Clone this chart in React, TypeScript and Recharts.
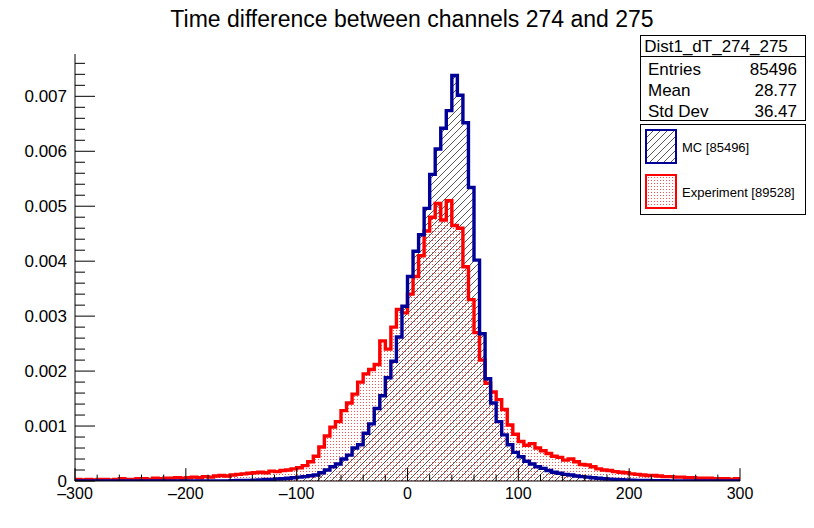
import React from 'react';
import { ComposedChart, Area, Line, XAxis, YAxis } from 'recharts';

const FONT = '"Liberation Sans", Arial, Helvetica, sans-serif';

const TITLE = 'Time difference between channels 274 and 275';
const STATS_NAME = 'Dist1_dT_274_275';
const STATS_ROWS: [string, string][] = [
  ['Entries', '85496'],
  ['Mean', '28.77'],
  ['Std Dev', '36.47'],
];
const SERIES_NAMES = ['MC [85496]', 'Experiment [89528]'];

const BIN_START = -300;
const BIN_WIDTH = 5;
const X_MIN = -300;
const X_MAX = 300;
const Y_MAX = 0.00777;

const xMajorTicks = [-300, -200, -100, 0, 100, 200, 300];
const xTickLabels = ['\u2013300', '\u2013200', '\u2013100', '0', '100', '200', '300'];
const yMajorTicks = [0, 0.001, 0.002, 0.003, 0.004, 0.005, 0.006, 0.007];
const yTickLabels = ['0', '0.001', '0.002', '0.003', '0.004', '0.005', '0.006', '0.007'];

// MC (bin lower edges from -300 in steps of 5)
const mcValues = [
  0, 0, 0, 0, 0, 0, 0, 0, 0, 0,
  0, 0, 0, 0, 0, 0, 0, 0, 0, 0,
  0, 0, 0, 0, 0, 0, 0,
  0.000003, 0.000005, 0.000008, 0.00001, 0.000012, 0.000016, 0.00002, 0.000026, 0.00003, 0.000036,
  0.00004, 0.00005, 0.00006, 0.00007, 0.00008, 0.000095, 0.00011, 0.00015, 0.0002, 0.00026,
  0.00031, 0.0004, 0.00047, 0.0006, 0.00066, 0.00087, 0.00104, 0.00132, 0.00155, 0.00188,
  0.00218, 0.00262, 0.00318, 0.00372, 0.00418, 0.00448, 0.00496, 0.00558, 0.00604, 0.00642,
  0.00674, 0.00738, 0.00702, 0.00652, 0.00534, 0.00402, 0.00268, 0.00186, 0.00142, 0.00108,
  0.00084, 0.00066, 0.00052, 0.00044, 0.00036, 0.00031, 0.00026, 0.00023, 0.00019, 0.00016,
  0.00014, 0.00012, 0.00011, 0.00009, 0.00008, 0.00007, 0.00006, 0.00005, 0.00004, 0.000035,
  0.00003, 0.000025, 0.00002, 0.000015, 0.000012, 0.00001, 0.000008, 0.000006, 0.000005, 0.000004,
  0.000003, 0.000002,
  0.000001, 0.000001, 0, 0.000001, 0, 0, 0.000001, 0, 0, 0, 0,
];

// Experiment
const expValues = [
  0.00003, 0.00002, 0.00003, 0.00002, 0.00003, 0.00003, 0.00002, 0.00003, 0.00004, 0.00003,
  0.00003, 0.00004, 0.00004, 0.00003, 0.00005, 0.00004, 0.00005, 0.00005, 0.00006, 0.00005,
  0.00006, 0.00007, 0.00006, 0.00008, 0.00007, 0.00009, 0.0001, 0.00009, 0.00011, 0.00012,
  0.00013, 0.00014, 0.00015, 0.00016, 0.00015, 0.00018, 0.00017, 0.00019, 0.0002, 0.00022,
  0.00024, 0.00028, 0.00035, 0.00045, 0.00062, 0.00082, 0.00098, 0.00108, 0.00128, 0.00142,
  0.00158, 0.0018, 0.00195, 0.00203, 0.00212, 0.00255, 0.0024, 0.0028, 0.00312, 0.00306,
  0.0034, 0.00372, 0.0041, 0.00455, 0.0048, 0.00505, 0.00475, 0.0051, 0.00465, 0.0046,
  0.0039, 0.0033, 0.0027, 0.0022, 0.00178, 0.00162, 0.00148, 0.0013, 0.00102, 0.00085,
  0.00072, 0.00065, 0.00068, 0.0006, 0.00055, 0.0005, 0.00045, 0.00043, 0.00038, 0.0004,
  0.00035, 0.0003, 0.00029, 0.00026, 0.00022, 0.0002, 0.00019, 0.00017, 0.00016, 0.00015,
  0.00013, 0.00012, 0.00011, 0.0001, 0.0001, 0.00009, 0.00008, 0.00008, 0.00007, 0.00007,
  0.00006, 0.00006, 0.00005, 0.00005, 0.00005, 0.00004, 0.00004, 0.00004, 0.00003, 0.00004,
];

const data = mcValues.map((mc, i) => ({ x: BIN_START + i * BIN_WIDTH, mc, exp: expValues[i] }));
data.push({ x: X_MAX, mc: mcValues[mcValues.length - 1], exp: expValues[expValues.length - 1] });

const xTicks: number[] = [];
for (let v = X_MIN; v <= X_MAX; v += 20) xTicks.push(v);
const yTicks: number[] = [];
for (let k = 0; k <= 38; k++) yTicks.push(Number((k * 0.0002).toFixed(4)));

const MC_COLOR = '#000099';
const EXP_COLOR = '#ff0000';
const DOT_COLOR = '#ff5050';

const XTick = (props: any) => {
  const { x, y, payload } = props;
  const idx = xMajorTicks.indexOf(payload.value);
  const major = idx >= 0;
  return (
    <g>
      <line x1={x} y1={y} x2={x} y2={y - (major ? 12.8 : 6.4)} stroke="#000" strokeWidth={1} />
      {major && (
        <text x={x} y={y + 18} textAnchor="middle" fontSize={16} fill="#000" fontFamily={FONT}>
          {xTickLabels[idx]}
        </text>
      )}
    </g>
  );
};

const YTick = (props: any) => {
  const { x, y, payload } = props;
  const idx = yMajorTicks.findIndex((t) => Math.abs(t - payload.value) < 1e-9);
  const major = idx >= 0;
  return (
    <g>
      <line x1={x} y1={y} x2={x + (major ? 20 : 10)} y2={y} stroke="#000" strokeWidth={1} />
      {major && (
        <text x={x - 8} y={y + 6} textAnchor="end" fontSize={17} fill="#000" fontFamily={FONT}>
          {yTickLabels[idx]}
        </text>
      )}
    </g>
  );
};

const PatternDefs = ({ prefix }: { prefix: string }) => (
  <defs>
    <pattern id={`${prefix}hatch`} patternUnits="userSpaceOnUse" width="7" height="7">
      <path d="M-2,2 L2,-2 M0,7 L7,0 M5,9 L9,5" stroke="#222" strokeWidth="0.75" />
    </pattern>
    <pattern id={`${prefix}dots`} patternUnits="userSpaceOnUse" width="3" height="3">
      <rect x="0" y="0" width="1" height="1" fill={DOT_COLOR} />
    </pattern>
  </defs>
);

export default function App() {
  return (
    <div style={{ position: 'absolute', left: 0, top: 0, width: 814, height: 528, background: '#fff', fontFamily: FONT }}>
      <ComposedChart width={814} height={528} data={data} margin={{ top: 54, right: 74, bottom: 0, left: 0 }}>
        <defs>
          <pattern id="chatch" patternUnits="userSpaceOnUse" width="7" height="7">
            <path d="M-2,2 L2,-2 M0,7 L7,0 M5,9 L9,5" stroke="#222" strokeWidth="0.75" />
          </pattern>
          <pattern id="cdots" patternUnits="userSpaceOnUse" width="3" height="3">
            <rect x="0" y="0" width="1" height="1" fill={DOT_COLOR} />
          </pattern>
        </defs>
        <XAxis
          dataKey="x"
          type="number"
          domain={[X_MIN, X_MAX]}
          ticks={xTicks}
          interval={0}
          tickSize={0}
          tickMargin={0}
          tickLine={false}
          axisLine={{ stroke: '#000' }}
          height={47}
          tick={XTick}
          allowDataOverflow
        />
        <XAxis
          xAxisId="top"
          orientation="top"
          type="number"
          domain={[X_MIN, X_MAX]}
          height={0}
          tick={false}
          tickLine={false}
          axisLine={{ stroke: '#000' }}
        />
        <YAxis
          type="number"
          domain={[0, Y_MAX]}
          ticks={yTicks}
          interval={0}
          width={75}
          tickSize={0}
          tickMargin={0}
          tickLine={false}
          axisLine={{ stroke: '#000' }}
          tick={YTick}
          allowDataOverflow
        />
        <YAxis
          yAxisId="right"
          orientation="right"
          type="number"
          domain={[0, Y_MAX]}
          width={0}
          tick={false}
          tickLine={false}
          axisLine={{ stroke: '#000' }}
        />
        <Area dataKey="exp" name={SERIES_NAMES[1]} type="stepAfter" stroke="none" fill="url(#cdots)" fillOpacity={1} isAnimationActive={false} />
        <Area dataKey="mc" name={SERIES_NAMES[0]} type="stepAfter" stroke="none" fill="url(#chatch)" fillOpacity={1} isAnimationActive={false} />
        <Line dataKey="exp" type="stepAfter" stroke={EXP_COLOR} strokeWidth={3.4} dot={false} isAnimationActive={false} />
        <Line dataKey="mc" type="stepAfter" stroke={MC_COLOR} strokeWidth={3.4} dot={false} isAnimationActive={false} />
      </ComposedChart>
      <svg width={814} height={528} style={{ position: 'absolute', left: 0, top: 0, pointerEvents: 'none' }}>
        <PatternDefs prefix="o" />
        <text x={412} y={27} textAnchor="middle" fontSize={23} fill="#000" fontFamily={FONT}>
          {TITLE}
        </text>
        <rect x={640.5} y={35.5} width={165} height={85} fill="#fff" stroke="#000" strokeWidth={1} />
        <line x1={640.5} y1={56.5} x2={805.5} y2={56.5} stroke="#000" strokeWidth={1} />
        <text x={716} y={52} textAnchor="middle" fontSize={17} fill="#000" fontFamily={FONT}>
          {STATS_NAME}
        </text>
        {STATS_ROWS.map(([k, v], i) => (
          <g key={k}>
            <text x={648} y={75 + i * 21.2} fontSize={17} fill="#000" fontFamily={FONT}>{k}</text>
            <text x={797} y={75 + i * 21.2} textAnchor="end" fontSize={17} fill="#000" fontFamily={FONT}>{v}</text>
          </g>
        ))}
        <rect x={640.5} y={124.5} width={165} height={90} fill="#fff" stroke="#000" strokeWidth={1} />
        <rect x={646} y={130} width={30} height={33} fill="url(#ohatch)" stroke={MC_COLOR} strokeWidth={2} />
        <text x={682} y={151.5} fontSize={13} fill="#000" fontFamily={FONT}>{SERIES_NAMES[0]}</text>
        <rect x={646} y={175} width={30} height={33} fill="url(#odots)" stroke={EXP_COLOR} strokeWidth={2} />
        <text x={682} y={196.5} fontSize={13} fill="#000" fontFamily={FONT}>{SERIES_NAMES[1]}</text>
      </svg>
    </div>
  );
}
